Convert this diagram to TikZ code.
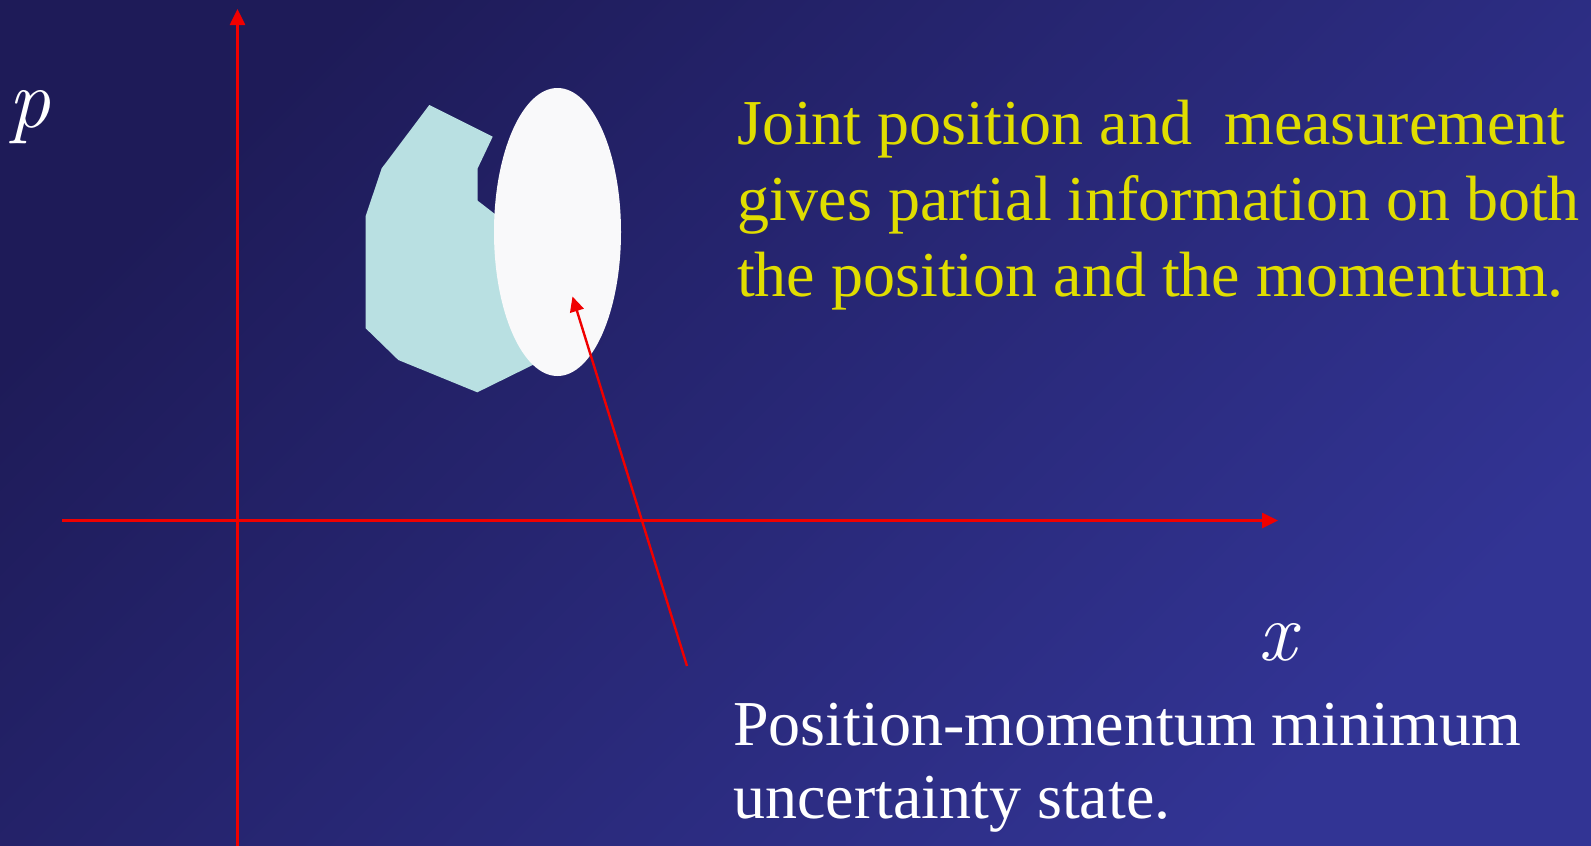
\documentclass[tikz,border=0pt]{standalone}
\usepackage{fontspec}
\setmainfont{Liberation Serif}
\newfontfamily\lmroman{Latin Modern Roman}
\usetikzlibrary{arrows.meta,shapes.geometric}
\definecolor{bgA}{RGB}{30,27,88}
\definecolor{bgB}{RGB}{50,52,148}
\definecolor{axisred}{RGB}{240,0,0}
\definecolor{txtyellow}{RGB}{224,221,0}
\definecolor{polyfill}{RGB}{185,224,226}
\definecolor{ellfill}{RGB}{249,249,250}
\tikzset{
  axisline/.style={draw=axisred, line width=2.6pt, -{Triangle[length=16pt,width=15pt]}},
  pointer/.style={draw=axisred, line width=2.4pt, -{Triangle[length=15pt,width=14pt]}},
  yeltext/.style={anchor=base west, inner sep=0pt, text=txtyellow, font=\fontsize{64}{73}\selectfont},
  whitetext/.style={anchor=base west, inner sep=0pt, text=white, font=\fontsize{64}{73}\selectfont},
  axlabel/.style={anchor=base west, inner sep=0pt, text=white, font=\lmroman\itshape\fontsize{84}{90}\selectfont},
}
\begin{document}
\begin{tikzpicture}[x=1pt,y=-1pt]
\useasboundingbox (0,0) rectangle (1591,846);
\shade[top color=bgA, bottom color=bgB, shading angle=45] (0,0) rectangle (1591,846);
% coordinates
\coordinate (yb) at (237.5,846);
\coordinate (yt) at (237.5,9);
\coordinate (xl) at (62,520.5);
\coordinate (xr) at (1278,520.5);
% polygon
\fill[polyfill] (429.3,105) -- (492.7,136.7) -- (477.7,168.3) -- (477.7,200.7) -- (494,213.3)
  -- (560,240) -- (560,350) -- (532.7,365) -- (477.3,392.3) -- (398.3,360) -- (365.7,328.3)
  -- (365.7,216) -- (381.7,168.3) -- cycle;
% ellipse
\node[draw=none, fill=ellfill, ellipse, minimum width=127pt, minimum height=288pt, inner sep=0pt] (ell) at (557.5,232) {};
% axes
\draw[axisline] (yb) -- (yt);
\draw[axisline] (xl) -- (xr);
% pointer
\coordinate (ptail) at (687,666);
\coordinate (phead) at (572.5,296.5);
\draw[pointer] (ptail) -- (phead);
% labels
\node[axlabel] (plab) at (8,127) {p};
\node[axlabel] (xlab) at (1258,660) {x};
\node[yeltext] (t1) at (737,144) {Joint position and\ \ measurement};
\node[yeltext] (t2) at (737,220) {gives partial information on both};
\node[yeltext] (t3) at (737,296) {the position and the momentum.};
\node[whitetext] (w1) at (733,745) {Position-momentum minimum};
\node[whitetext] (w2) at (733,818) {uncertainty state.};
\end{tikzpicture}
\end{document}
